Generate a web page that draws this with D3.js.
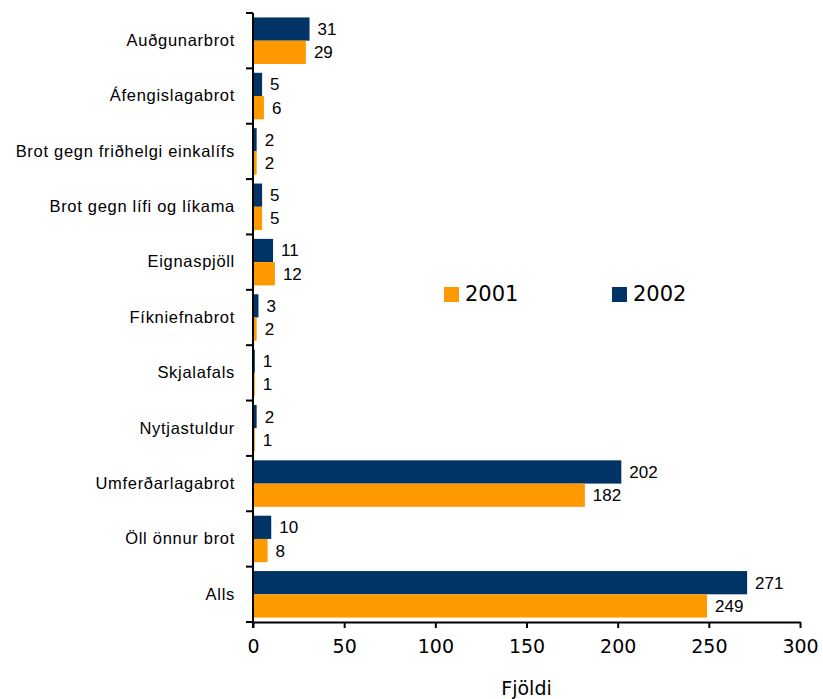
<!DOCTYPE html>
<html>
<head>
<meta charset="utf-8">
<script src="https://cdn.jsdelivr.net/npm/d3@7"></script>
<style>
  body { margin: 0; background: #fff; }
  svg { display: block; }
</style>
</head>
<body>
<div id="chart"></div>
<script>
var categories = ["Auðgunarbrot", "Áfengislagabrot", "Brot gegn friðhelgi einkalífs",
  "Brot gegn lífi og líkama", "Eignaspjöll", "Fíkniefnabrot", "Skjalafals",
  "Nytjastuldur", "Umferðarlagabrot", "Öll önnur brot", "Alls"];
var values2002 = [31, 5, 2, 5, 11, 3, 1, 2, 202, 10, 271];
var values2001 = [29, 6, 2, 5, 12, 2, 1, 1, 182, 8, 249];
var seriesNames = ["2001", "2002"];
var xTicks = [0, 50, 100, 150, 200, 250, 300];

function barChart() {
  var width = 823, height = 699;
  var plotLeft = 253, plotRight = 800, plotTop = 13, plotBottom = 622;
  var orange = "#FF9900", navy = "#003366";

  var svg = d3.select("#chart").append("svg")
    .attr("width", width)
    .attr("height", height);

  var x = d3.scaleLinear().domain([0, 300]).range([plotLeft, plotRight]);
  var y = d3.scaleBand().domain(categories).range([plotTop, plotBottom]).paddingInner(0.16).paddingOuter(0.08);
  var inner = d3.scaleBand().domain(["2002", "2001"]).range([0, y.bandwidth()]);

  var rows = categories.map(function(c, i) {
    return {cat: c, s: [{k: "2002", v: values2002[i], c: navy}, {k: "2001", v: values2001[i], c: orange}]};
  });

  var g = svg.selectAll("g.row").data(rows).enter().append("g")
    .attr("class", "row")
    .attr("transform", function(d) { return "translate(0," + y(d.cat) + ")"; });

  g.selectAll("rect").data(function(d) { return d.s; }).enter().append("rect")
    .attr("x", x(0))
    .attr("y", function(d) { return inner(d.k); })
    .attr("width", function(d) { return x(d.v) - x(0); })
    .attr("height", inner.bandwidth())
    .attr("fill", function(d) { return d.c; });

  g.selectAll("text.val").data(function(d) { return d.s; }).enter().append("text")
    .attr("class", "val")
    .attr("x", function(d) { return x(d.v) + 8; })
    .attr("y", function(d) { return inner(d.k) + inner.bandwidth() / 2; })
    .attr("dy", "0.35em")
    .style("font-family", "'Liberation Sans', Arial, sans-serif")
    .style("font-size", "17px")
    .attr("fill", "#000")
    .text(function(d) { return d.v; });

  // category axis
  var yAxis = d3.axisLeft(d3.scaleBand().domain(categories).range([plotTop, plotBottom]))
    .tickSize(0).tickPadding(18);
  var ya = svg.append("g").attr("transform", "translate(" + plotLeft + ",0)").call(yAxis);
  ya.select(".domain").remove();
  ya.selectAll("text")
    .style("font-family", "'Liberation Sans', Arial, sans-serif")
    .style("font-size", "16.5px")
    .style("letter-spacing", "0.7px")
    .attr("fill", "#000");

  // category separators
  var seps = d3.range(categories.length + 1).map(function(i) {
    return plotTop + i * (plotBottom - plotTop) / categories.length;
  });
  svg.selectAll("line.sep").data(seps).enter().append("line")
    .attr("x1", plotLeft - 7).attr("x2", plotLeft)
    .attr("y1", function(d) { return d; }).attr("y2", function(d) { return d; })
    .attr("stroke", "#000").attr("stroke-width", 2);
  svg.append("line")
    .attr("x1", plotLeft).attr("x2", plotLeft).attr("y1", plotTop).attr("y2", plotBottom + 6)
    .attr("stroke", "#000").attr("stroke-width", 2);

  // value axis
  var xAxis = d3.axisBottom(x).tickValues(xTicks).tickSize(6).tickPadding(12).tickSizeOuter(0);
  var xa = svg.append("g").attr("transform", "translate(0," + plotBottom + ")").call(xAxis);
  xa.select(".domain").attr("stroke-width", 2);
  xa.selectAll(".tick line").attr("stroke-width", 2);
  xa.selectAll("text")
    .style("font-family", "'DejaVu Sans', Verdana, sans-serif")
    .style("font-size", "19px")
    .attr("fill", "#000");

  svg.append("text")
    .attr("x", (plotLeft + plotRight) / 2)
    .attr("y", 695)
    .attr("text-anchor", "middle")
    .style("font-family", "'DejaVu Sans', Verdana, sans-serif")
    .style("font-size", "19px")
    .text("Fjöldi");

  // legend
  var legendX = [444, 612];
  var lg = svg.selectAll("g.legend").data(seriesNames).enter().append("g")
    .attr("class", "legend")
    .attr("transform", function(d, i) { return "translate(" + legendX[i] + ",287)"; });
  lg.append("rect").attr("width", 15).attr("height", 15)
    .attr("fill", function(d, i) { return i === 0 ? orange : navy; });
  lg.append("text").attr("x", 21).attr("y", 14)
    .style("font-family", "'DejaVu Sans', Verdana, sans-serif")
    .style("font-size", "21px")
    .text(function(d) { return d; });
}

barChart();
</script>
</body>
</html>
